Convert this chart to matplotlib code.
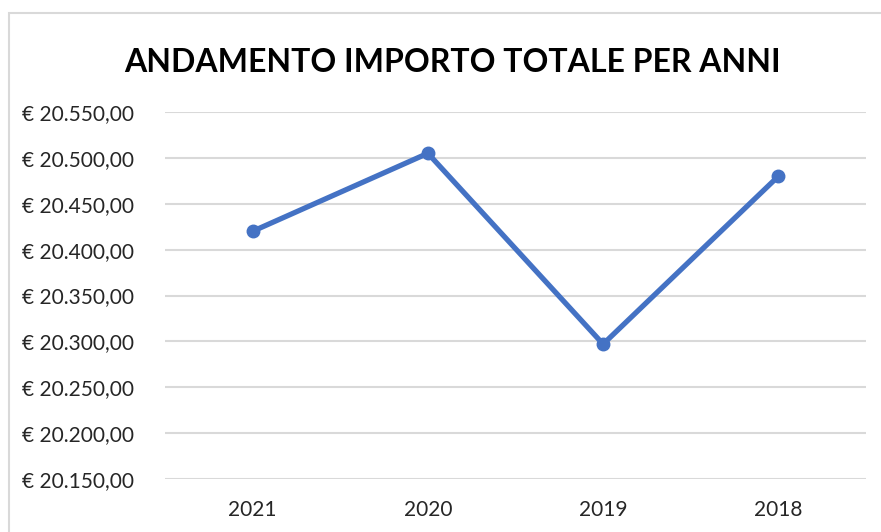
import matplotlib
matplotlib.use("Agg")
import matplotlib.pyplot as plt
from matplotlib.ticker import FuncFormatter, MultipleLocator
from matplotlib.patches import Rectangle

# DATA
YEARS = ["2021", "2020", "2019", "2018"]
TOTALS = [20420, 20505, 20297, 20480]

TITLE = "ANDAMENTO IMPORTO TOTALE PER ANNI"
Y_MIN, Y_MAX, Y_STEP = 20150, 20550, 50

# STYLE
W, H, DPI = 881, 532, 100
LINE_COLOUR = "#4472C4"
GRID_COLOUR = "#D9D9D9"
TEXT_COLOUR = "#262626"
FONT = ["Lato", "DejaVu Sans"]


def euro(v, pos=None):
    s = f"{v:,.2f}".replace(",", "X").replace(".", ",").replace("X", ".")
    return f"€ {s}"


plt.rcParams["font.family"] = FONT

fig = plt.figure(figsize=(W / DPI, H / DPI), dpi=DPI, facecolor="white")
ax = fig.add_axes([165 / W, 1 - 479 / H, (866 - 165) / W, (479 - 112) / H])

x = range(len(YEARS))
ax.plot(x, TOTALS, color=LINE_COLOUR, linewidth=3.8, marker="o", markersize=9,
        solid_capstyle="round", zorder=3)

ax.set_xlim(-0.5, len(YEARS) - 0.5)
ax.set_ylim(Y_MIN, Y_MAX)
ax.yaxis.set_major_locator(MultipleLocator(Y_STEP))
ax.yaxis.set_major_formatter(FuncFormatter(euro))
ax.set_xticks(list(x))
ax.set_xticklabels(YEARS)

ax.grid(axis="y", color=GRID_COLOUR, linewidth=1.5)
ax.set_axisbelow(True)
for s in ax.spines.values():
    s.set_visible(False)
ax.tick_params(axis="both", length=0, labelsize=15, colors=TEXT_COLOUR)
ax.tick_params(axis="y", pad=22)
ax.tick_params(axis="x", pad=15)

fig.text(452 / W, 1 - 62 / H, TITLE, ha="center", va="center",
         fontsize=23, fontweight="bold", color="black")

# chart area border
fig.patches.append(Rectangle((9 / W, -0.1), 1.2, 1 - 13 / H + 0.1, transform=fig.transFigure,
                             fill=False, edgecolor=GRID_COLOUR, linewidth=1.5))

fig.savefig("out.png", dpi=DPI)
